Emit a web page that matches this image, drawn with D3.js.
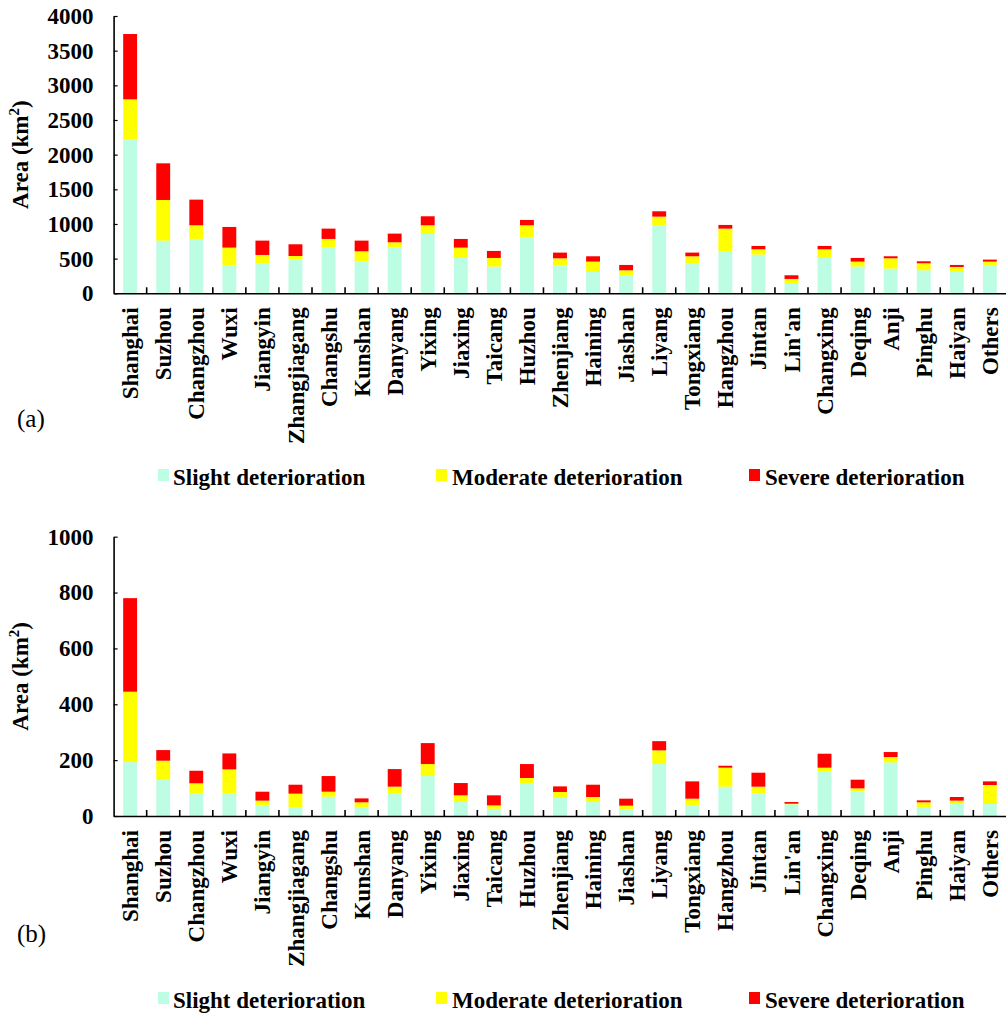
<!DOCTYPE html>
<html>
<head>
<meta charset="utf-8">
<script src="https://cdn.jsdelivr.net/npm/d3@7"></script>
<style>
  html, body { margin: 0; padding: 0; background: #fff; }
  text { font-family: "Liberation Serif", "Times New Roman", serif; }
</style>
</head>
<body>
<svg id="chart" width="1006" height="1019"></svg>
<script>
const cities = ['Shanghai', 'Suzhou', 'Changzhou', 'Wuxi', 'Jiangyin', 'Zhangjiagang', 'Changshu',
  'Kunshan', 'Danyang', 'Yixing', 'Jiaxing', 'Taicang', 'Huzhou', 'Zhenjiang', 'Haining', 'Jiashan',
  'Liyang', 'Tongxiang', 'Hangzhou', 'Jintan', "Lin'an", 'Changxing', 'Deqing', 'Anji', 'Pinghu',
  'Haiyan', 'Others'];

const seriesNames = ['Slight deterioration', 'Moderate deterioration', 'Severe deterioration'];
const seriesColors = ['#bdfde3', '#ffff00', '#ff0000'];

// panel (a)
const slightA = [2220, 760, 784, 404, 433, 486, 659, 457, 659, 856, 510, 385, 808, 404, 308, 255,
  981, 433, 606, 558, 135, 510, 385, 356, 332, 308, 409];
const moderateA = [578, 586, 197, 255, 120, 52, 125, 149, 77, 125, 149, 125, 173, 101, 149, 77,
  125, 101, 327, 77, 72, 125, 72, 149, 101, 72, 48];
const severeA = [942, 529, 370, 298, 207, 169, 149, 154, 125, 130, 125, 101, 77, 82, 77, 77,
  77, 53, 53, 48, 53, 48, 53, 29, 29, 29, 29];
const ticksA = [0, 500, 1000, 1500, 2000, 2500, 3000, 3500, 4000];

// panel (b)
const slightB = [193, 131, 81, 81, 38, 32, 69, 32, 81, 143, 50, 26, 117, 68, 50, 25,
  186, 37, 105, 80, 42, 161, 87, 192, 31, 43, 43];
const moderateB = [252, 67, 36, 86, 17, 48, 18, 17, 24, 43, 24, 12, 19, 18, 18, 12,
  49, 25, 68, 25, 2, 12, 12, 19, 18, 12, 68];
const severeB = [335, 38, 45, 57, 32, 32, 56, 14, 63, 75, 44, 36, 50, 20, 44, 25,
  33, 62, 7, 50, 6, 50, 31, 18, 7, 13, 13];
const ticksB = [0, 200, 400, 600, 800, 1000];

const svg = d3.select('#chart');
const FONT = 23;

function drawPanel(opts) {
    const g = svg.append('g');
    const rows = cities.map((c, i) => ({
        city: c,
        slight: opts.slight[i],
        moderate: opts.moderate[i],
        severe: opts.severe[i]
    }));
    const stack = d3.stack().keys(['slight', 'moderate', 'severe'])(rows);

    const x = d3.scaleBand().domain(cities).range([113.6, 1006.4])
        .paddingInner(0.58).paddingOuter(0.29);
    const y = d3.scaleLinear().domain([0, opts.max]).range([opts.y0, opts.y1]);
    const step = x.step();
    const left = 113.6;

    // Bars
    g.selectAll('.layer')
        .data(stack)
        .enter().append('g')
        .attr('fill', (d, i) => seriesColors[i])
        .selectAll('rect')
        .data(d => d)
        .enter().append('rect')
        .attr('x', d => x(d.data.city))
        .attr('width', x.bandwidth())
        .attr('y', d => y(d[1]))
        .attr('height', d => y(d[0]) - y(d[1]));

    // Y axis
    const yAxis = g.append('g')
        .attr('transform', `translate(${left},0)`)
        .call(d3.axisLeft(y).tickValues(opts.ticks).tickFormat(d3.format('d'))
            .tickSize(-4).tickSizeOuter(0).tickPadding(20));
    yAxis.select('.domain').attr('stroke', '#000').attr('stroke-width', 1.6);
    yAxis.selectAll('.tick line').attr('stroke', '#000').attr('stroke-width', 1.2);
    yAxis.selectAll('text')
        .attr('font-size', FONT).attr('font-weight', 'bold').attr('fill', '#000');

    // X axis
    const xAxis = g.append('g')
        .attr('transform', `translate(0,${opts.y0})`)
        .call(d3.axisBottom(x).tickSize(0).tickSizeOuter(0));
    xAxis.select('.domain').attr('stroke', '#000').attr('stroke-width', 1.6);
    xAxis.selectAll('text')
        .attr('transform', 'rotate(-90)')
        .attr('text-anchor', 'end')
        .attr('x', -14).attr('y', 0).attr('dy', '0.35em')
        .attr('font-size', FONT).attr('font-weight', 'bold').attr('fill', '#000');

    // Category boundary ticks (inside)
    g.append('g').selectAll('line')
        .data(d3.range(1, cities.length))
        .enter().append('line')
        .attr('x1', k => left + k * step).attr('x2', k => left + k * step)
        .attr('y1', opts.y0).attr('y2', opts.y0 - 6)
        .attr('stroke', '#000').attr('stroke-width', 1.6);

    // Y axis title
    const title = g.append('text')
        .attr('transform', `translate(28,${(opts.y0 + opts.y1) / 2}) rotate(-90)`)
        .attr('text-anchor', 'middle')
        .attr('font-size', FONT).attr('font-weight', 'bold').attr('fill', '#000');
    title.append('tspan').text('Area (km');
    title.append('tspan').attr('font-size', 15).attr('dy', -9).text('2');
    title.append('tspan').attr('dy', 9).text(')');

    // Panel letter
    g.append('text')
        .attr('x', 17).attr('y', opts.letterY)
        .attr('font-size', 25).attr('fill', '#000')
        .text(opts.letter);

    // Legend
    const legendX = [[158, 173], [436, 452], [749, 765]];
    seriesNames.forEach((name, i) => {
        g.append('rect')
            .attr('x', legendX[i][0]).attr('y', opts.legendY - 16)
            .attr('width', 11).attr('height', 12)
            .attr('fill', seriesColors[i]);
        g.append('text')
            .attr('x', legendX[i][1]).attr('y', opts.legendY)
            .attr('font-size', FONT).attr('font-weight', 'bold').attr('fill', '#000')
            .text(name);
    });
}

drawPanel({
    slight: slightA, moderate: moderateA, severe: severeA,
    max: 4000, ticks: ticksA, y0: 293.3, y1: 16,
    letter: '(a)', letterY: 427, legendY: 485
});

drawPanel({
    slight: slightB, moderate: moderateB, severe: severeB,
    max: 1000, ticks: ticksB, y0: 816, y1: 536.7,
    letter: '(b)', letterY: 942, legendY: 1008
});
</script>
</body>
</html>
